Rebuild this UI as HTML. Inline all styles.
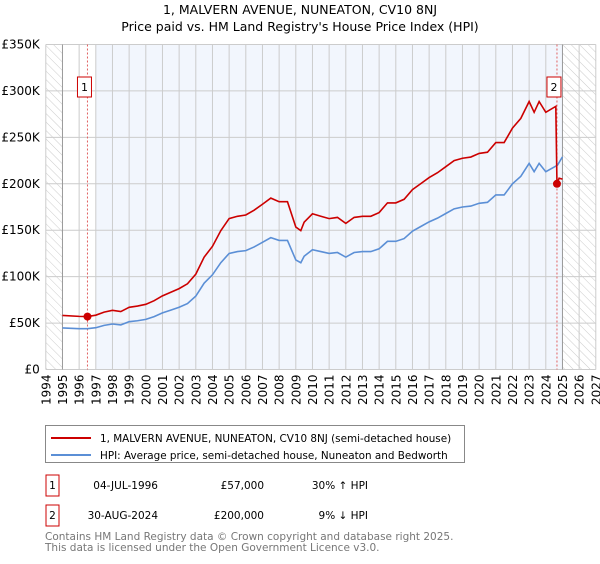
<!DOCTYPE html>
<html><head><meta charset="utf-8"><style>
body{margin:0;background:#fff;font-family:"DejaVu Sans","Liberation Sans",sans-serif;}
svg text{font-family:"DejaVu Sans","Liberation Sans",sans-serif;}
</style></head><body>
<svg id="c" width="600" height="560" viewBox="0 0 600 560">
<defs>
<pattern id="hatch" width="6" height="6" patternUnits="userSpaceOnUse" patternTransform="rotate(-45)">
<line x1="0" y1="0" x2="0" y2="6" stroke="#ccc" stroke-width="1"/></pattern>
</defs>
<text x="300" y="14" text-anchor="middle" font-size="12.5" fill="#000">1, MALVERN AVENUE, NUNEATON, CV10 8NJ</text>
<text x="300" y="31" text-anchor="middle" font-size="12.5" fill="#000">Price paid vs. HM Land Registry's House Price Index (HPI)</text>
<g id="plot"></g>
<g>
<rect x="45.5" y="425.5" width="419" height="37" fill="#fff" stroke="#888"/>
<line x1="51" y1="438" x2="91" y2="438" stroke="#cc0000" stroke-width="2"/>
<text x="100" y="442" font-size="10.4">1, MALVERN AVENUE, NUNEATON, CV10 8NJ (semi-detached house)</text>
<line x1="51" y1="455" x2="91" y2="455" stroke="#5b8fd6" stroke-width="2"/>
<text x="100" y="459" font-size="10.4">HPI: Average price, semi-detached house, Nuneaton and Bedworth</text>
</g>
<g font-size="10.5">
<rect x="46" y="475" width="13" height="21" fill="#fff" stroke="#cc0000"/>
<text x="52.5" y="489" text-anchor="middle">1</text>
<text x="158" y="489" text-anchor="end">04-JUL-1996</text>
<text x="264" y="489" text-anchor="end">£57,000</text>
<text x="368" y="489" text-anchor="end">30% ↑ HPI</text>
<rect x="46" y="505" width="13" height="21" fill="#fff" stroke="#cc0000"/>
<text x="52.5" y="519" text-anchor="middle">2</text>
<text x="158" y="519" text-anchor="end">30-AUG-2024</text>
<text x="264" y="519" text-anchor="end">£200,000</text>
<text x="368" y="519" text-anchor="end">9% ↓ HPI</text>
</g>
<text x="45" y="540" font-size="10.5" fill="#777">Contains HM Land Registry data © Crown copyright and database right 2025.</text>
<text x="45" y="551" font-size="10.5" fill="#777">This data is licensed under the Open Government Licence v3.0.</text>
</svg>
<script>
const hpiYears=[1995,1996,1996.5,1997,1997.5,1998,1998.5,1999,1999.5,2000,2000.5,2001,2001.5,2002,2002.5,2003,2003.5,2004,2004.5,2005,2005.5,2006,2006.5,2007,2007.5,2008,2008.5,2009,2009.3,2009.5,2010,2010.5,2011,2011.5,2012,2012.5,2013,2013.5,2014,2014.5,2015,2015.5,2016,2016.5,2017,2017.5,2018,2018.5,2019,2019.5,2020,2020.5,2021,2021.5,2022,2022.5,2023,2023.3,2023.6,2024,2024.5,2024.7,2025];
const hpiValues=[44.8,44,44,45,47.5,49,48,51.5,52.5,54,57,61,64,67,71,79,93,102,115,125,127,128,132,137,142,139,139,118,115,122,129,127,125,126,121,126,127,127,130,138,138,141,149,154,159,163,168,173,175,176,179,180,188,188,200,208,222,213,222,213,218,220,229];
const priceYears=[1995,1996,1996.5,1997,1997.5,1998,1998.5,1999,1999.5,2000,2000.5,2001,2001.5,2002,2002.5,2003,2003.5,2004,2004.5,2005,2005.5,2006,2006.5,2007,2007.5,2008,2008.5,2009,2009.3,2009.5,2010,2010.5,2011,2011.5,2012,2012.5,2013,2013.5,2014,2014.5,2015,2015.5,2016,2016.5,2017,2017.5,2018,2018.5,2019,2019.5,2020,2020.5,2021,2021.5,2022,2022.5,2023,2023.3,2023.6,2024,2024.6,2024.67,2024.8,2025];
const priceValues=[58.2,57.2,57,58.5,61.8,63.7,62.4,67,68.3,70.2,74.1,79.3,83.2,87.1,92.3,102.7,121,132.6,149.5,162.5,165,166.4,171.6,178,184.6,180.7,180.7,153.4,149.5,158.6,167.7,165,162.5,163.8,157.3,163.8,165,165,169,179.4,179.4,183.3,193.7,200.2,206.7,211.9,218.4,225,227.5,228.8,232.7,234,244.4,244.4,260,270.4,288.6,277,288.6,277,283.4,200,206,205];
const saleYears=[1996.5,2024.67];
const saleValues=[57,200];
const saleLabels=["1","2"];
const yTicks=[0,50,100,150,200,250,300,350];
const yTickLabels=["£0","£50K","£100K","£150K","£200K","£250K","£300K","£350K"];
const xTicks=[1994,1995,1996,1997,1998,1999,2000,2001,2002,2003,2004,2005,2006,2007,2008,2009,2010,2011,2012,2013,2014,2015,2016,2017,2018,2019,2020,2021,2022,2023,2024,2025,2026,2027];

const X0=45.8,X1=595.8,Y0=369.5,Y1=44.5;
const x=t=>X0+(t-1994)/(2027-1994)*(X1-X0);
const y=v=>Y0-v/350*(Y0-Y1);
const NS="http://www.w3.org/2000/svg";
const g=document.getElementById('plot');
function mk(tag,attrs,parent){const e=document.createElementNS(NS,tag);for(const k in attrs)e.setAttribute(k,attrs[k]);(parent||g).appendChild(e);return e;}
let e;
e=mk('rect',{x:X0,y:Y1,width:X1-X0,height:Y0-Y1,fill:'#fff'});

e=mk('rect',{x:x(1997),y:Y1,width:x(2025)-x(1997),height:Y0-Y1,fill:'#f2f6fd'});

e=mk('rect',{x:X0,y:Y1,width:x(1995)-X0,height:Y0-Y1,fill:'url(#hatch)'});

e=mk('rect',{x:x(2025),y:Y1,width:X1-x(2025),height:Y0-Y1,fill:'url(#hatch)'});

yTicks.forEach((v,i)=>{
 e=mk('line',{x1:X0,x2:X1,y1:y(v),y2:y(v),stroke:'#ccc','stroke-width':1});
 
 e=mk('text',{x:X0-6,y:y(v)+4,'text-anchor':'end','font-size':12});e.textContent=yTickLabels[i];
 
});
xTicks.forEach(t=>{
 e=mk('line',{x1:x(t),x2:x(t),y1:Y1,y2:Y0,stroke:(t==1995||t==2025)?'#999':'#ccc','stroke-width':1});
 
 e=mk('text',{x:0,y:0,'text-anchor':'end','font-size':12,transform:`translate(${x(t)+4.5},${Y0+5}) rotate(-90)`});e.textContent=t;
 
});
saleYears.forEach((t,i)=>{
 e=mk('line',{x1:x(t),x2:x(t),y1:Y1,y2:Y0,stroke:'#e06060','stroke-width':1,'stroke-dasharray':'2,2'});
 
});
e=mk('polyline',{points:hpiYears.map((t,i)=>x(t)+','+y(hpiValues[i])).join(' '),fill:'none',stroke:'#5b8fd6','stroke-width':1.6});

e=mk('polyline',{points:priceYears.map((t,i)=>x(t)+','+y(priceValues[i])).join(' '),fill:'none',stroke:'#cc0000','stroke-width':1.6});

saleYears.forEach((t,i)=>{
 e=mk('circle',{cx:x(t),cy:y(saleValues[i]),r:4,fill:'#cc0000'});
 
 const bx=x(t)-3;
 e=mk('rect',{x:bx-7,y:77,width:14,height:20,fill:'#fff',stroke:'#cc0000'});
 
 e=mk('text',{x:bx,y:91,'text-anchor':'middle','font-size':11});e.textContent=saleLabels[i];
 
});
</script>
</body></html>
